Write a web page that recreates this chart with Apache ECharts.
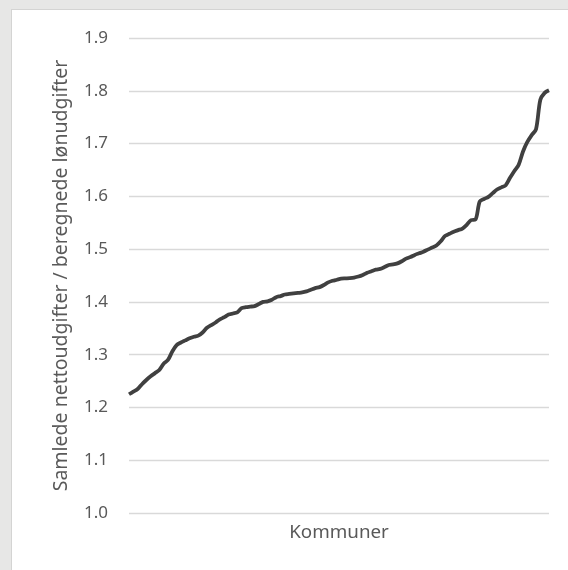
<!DOCTYPE html>
<html>
<head>
<meta charset="utf-8">
<script src="https://cdn.jsdelivr.net/npm/echarts@6/dist/echarts.min.js"></script>
<style>
  html, body { margin: 0; padding: 0; background: #e7e7e6; width: 568px; height: 570px; overflow: hidden; }
  #panel { position: absolute; left: 11px; top: 9px; width: 557px; height: 561px; background: #ffffff; border-left: 1px solid #d4d4d3; border-top: 1px solid #d4d4d3; }
  #chart { position: absolute; left: 0; top: 0; width: 568px; height: 570px; }
</style>
</head>
<body>
<div id="panel"></div>
<div id="chart"></div>
<script>
// Data (sorted ratio per municipality)
const yTicks = [1.0, 1.1, 1.2, 1.3, 1.4, 1.5, 1.6, 1.7, 1.8, 1.9];
const ratios = [
  1.225, 1.230, 1.235, 1.244, 1.252, 1.259, 1.265, 1.271, 1.283, 1.290,
  1.306, 1.318, 1.323, 1.327, 1.331, 1.334, 1.336, 1.342, 1.351, 1.356,
  1.361, 1.367, 1.371, 1.376, 1.378, 1.380, 1.388, 1.390, 1.391, 1.392,
  1.396, 1.400, 1.401, 1.404, 1.409, 1.411, 1.414, 1.415, 1.416, 1.417,
  1.418, 1.420, 1.423, 1.426, 1.428, 1.432, 1.437, 1.440, 1.442, 1.444,
  1.4445, 1.445, 1.446, 1.448, 1.451, 1.455, 1.458, 1.461, 1.4625, 1.466,
  1.470, 1.471, 1.473, 1.477, 1.482, 1.485, 1.489, 1.492, 1.495, 1.499,
  1.503, 1.507, 1.515, 1.525, 1.529, 1.533, 1.536, 1.539, 1.546, 1.555,
  1.556, 1.590, 1.595, 1.599, 1.606, 1.613, 1.617, 1.621, 1.635, 1.648,
  1.660, 1.685, 1.703, 1.716, 1.727, 1.783, 1.796, 1.801
];
const categories = ratios.map((_, i) => 'Kommune ' + (i + 1));
const xAxisName = 'Kommuner';
const yAxisName = 'Samlede nettoudgifter / beregnede lønudgifter';

const chart = echarts.init(document.getElementById('chart'), null, { renderer: 'canvas' });
const font = 'Noto Sans';
chart.setOption({
  backgroundColor: 'transparent',
  animation: false,
  grid: { left: 129, right: 19, top: 38, bottom: 57, containLabel: false },
  xAxis: {
    type: 'category',
    data: categories,
    boundaryGap: false,
    axisLine: { show: false },
    axisTick: { show: false },
    axisLabel: { show: false },
    splitLine: { show: false },
    name: xAxisName,
    nameLocation: 'middle',
    nameGap: 10,
    nameTextStyle: { color: '#595959', fontSize: 18.8, fontFamily: font, verticalAlign: 'top' }
  },
  yAxis: {
    type: 'value',
    min: yTicks[0],
    max: yTicks[yTicks.length - 1],
    interval: 0.1,
    axisLine: { show: false },
    axisTick: { show: false },
    axisLabel: {
      color: '#595959', fontSize: 17, fontFamily: font, margin: 21,
      formatter: v => v.toFixed(1)
    },
    splitLine: { lineStyle: { color: '#d9d9d9', width: 1.4 } },
    name: yAxisName,
    nameLocation: 'middle',
    nameGap: 58,
    nameTextStyle: { color: '#595959', fontSize: 19.5, fontFamily: font }
  },
  series: [{
    type: 'line',
    data: ratios,
    showSymbol: false,
    smooth: 0.3,
    lineStyle: { color: '#404040', width: 3.8 },
    itemStyle: { color: '#404040' }
  }]
});
</script>
</body>
</html>
